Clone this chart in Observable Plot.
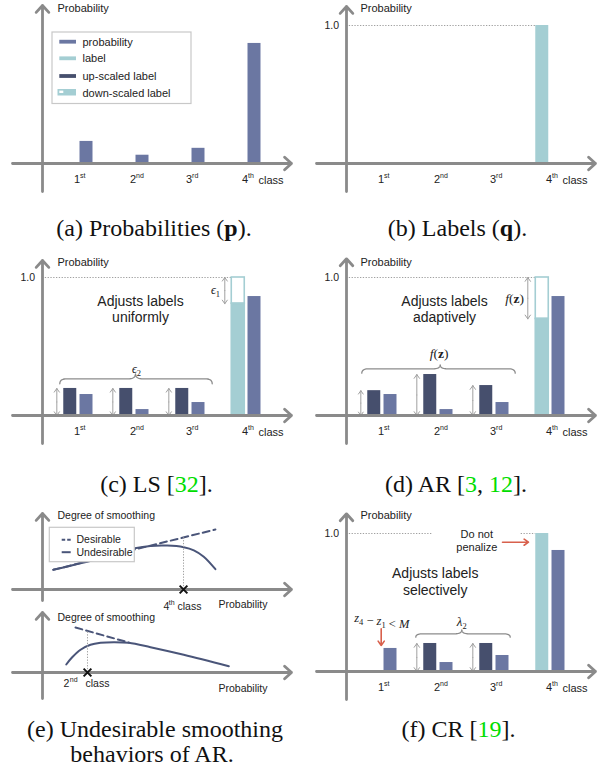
<!DOCTYPE html>
<html><head><meta charset="utf-8">
<script src="https://cdn.jsdelivr.net/npm/d3@7"></script>
<script src="https://cdn.jsdelivr.net/npm/@observablehq/plot@0.6"></script>
<style>
body{margin:0;background:#fff;}
#fig{position:relative;width:597px;height:778px;overflow:hidden;background:#fff;}
.panel{position:absolute;width:298px;}
.cap{position:absolute;font-family:"Liberation Serif","Times New Roman",serif;font-size:24px;color:#111;white-space:nowrap;transform:translateX(-50%);line-height:24px;}
.cite{color:#00dd00;}
</style></head><body><div id="fig"></div>
<script>
// ---------------- data ----------------
const classNums = ["1", "2", "3", "4"];
const classSups = ["st", "nd", "rd", "th"];
const legendLabels = ["probability", "label", "up-scaled label", "down-scaled label"];
const probA = [0.16, 0.06, 0.11, 0.87];
const labelB = [null, null, null, 1.0];
const probC = [0.152, 0.043, 0.094, 0.862];
const upC = [0.196, 0.196, 0.196, null];
const downC = [null, null, null, 0.81];
const probD = [0.152, 0.043, 0.094, 0.862];
const upD = [0.18, 0.297, 0.217, null];
const downD = [null, null, null, 0.70];
const probF = [0.167, 0.065, 0.116, 0.877];
const upF = [null, 0.203, 0.203, null];
const labelF = [null, null, null, 1.0];
// panel (e): [probability, degree of smoothing]
const desirableTop = [[0.049, 0.246], [0.786, 0.75]];
const undesirableTop = [[0.049, 0.246], [0.264, 0.39], [0.42, 0.515], [0.49, 0.545], [0.567, 0.55], [0.642, 0.529], [0.688, 0.49], [0.733, 0.41], [0.786, 0.254]];
const desirableBottom = [[0.15, 0.5625], [0.392, 0.375]];
const undesirableBottom = [[0.108, 0.1], [0.135, 0.19], [0.173, 0.284], [0.218, 0.346], [0.264, 0.371], [0.324, 0.379], [0.392, 0.371], [0.491, 0.316], [0.642, 0.221], [0.847, 0.079]];
const classTop = 0.641, classBottom = 0.2045;
const eLegend = ["Desirable", "Undesirable"];
const captions = [
  {cx: 154, base: 235, html: '(a) Probabilities (<b>p</b>).'},
  {cx: 457.5, base: 235, html: '(b) Labels (<b>q</b>).'},
  {cx: 156.5, base: 491, html: '(c) LS [<span class="cite">32</span>].'},
  {cx: 456, base: 491, html: '(d) AR [<span class="cite">3</span>, <span class="cite">12</span>].'},
  {cx: 155, base: 736, html: '(e) Undesirable smoothing'},
  {cx: 152, base: 761, html: 'behaviors of AR.'},
  {cx: 458.5, base: 736, html: '(f) CR [<span class="cite">19</span>].'}
];

// ---------------- layout helpers ----------------
const W = 298, H = 200, AX = 163;
const px2x = px => (px - 30) / 56;
const px2y = py => (AX - py) / 138;
const BW = 0.116, DOFF = -0.29, AOFF = -0.53;
const C = {prob: "#6b77a2", label: "#a4ced3", dark: "#464f6d", axis: "#8a8a8a", red: "#d8604c",
  curve: "#4a5579", txt: "#222", guide: "#a0a0a0", brace: "#8c8c8c", box: "#c8c8c8"};
const SANS = "Liberation Sans, Arial, Helvetica, sans-serif";
const SERIF = "Liberation Serif, Times New Roman, serif";

const rows = vals => vals.map((v, i) => ({c: i + 1, v})).filter(d => d.v != null);

function barRects(vals, off, fill) {
  return Plot.rect(rows(vals), {x1: d => d.c + off - BW, x2: d => d.c + off + BW, y1: 0, y2: "v", fill});
}
function downScaled(vals) {
  return [
    Plot.rect(rows(vals), {x1: d => d.c + DOFF - BW, x2: d => d.c + DOFF + BW, y1: "v", y2: 1, fill: "white", stroke: C.label, strokeWidth: 1.6}),
    Plot.rect(rows(vals), {x1: d => d.c + DOFF - BW, x2: d => d.c + DOFF + BW, y1: 0, y2: "v", fill: C.label, stroke: C.label, strokeWidth: 1.6})
  ];
}
function dblArrows(vals) {
  const r = rows(vals);
  const o = {x1: d => d.c + AOFF, x2: d => d.c + AOFF, y1: d => d.v / 2, stroke: C.guide, strokeWidth: 1, headLength: 7, headAngle: 70};
  return [Plot.arrow(r, {...o, y2: 0}), Plot.arrow(r, {...o, y2: "v"})];
}
function dbl(x, ya, yb) {
  const o = {x1: x, x2: x, y1: (ya + yb) / 2, stroke: C.guide, strokeWidth: 1, headLength: 7, headAngle: 70};
  return [Plot.arrow([0], {...o, y2: ya}), Plot.arrow([0], {...o, y2: yb})];
}
function axes(yTop) {
  const o = {stroke: C.axis, strokeWidth: 2.8, headLength: 5, headAngle: 85};
  return [
    Plot.arrow([0], {...o, x1: px2x(12), y1: 0, x2: px2x(291), y2: 0}),
    Plot.arrow([0], {...o, x1: px2x(42), y1: px2y(191), x2: px2x(42), y2: px2y(yTop)})
  ];
}
function ticks() {
  const d = classNums.map((n, i) => ({c: i + 1, n, s: classSups[i]}));
  return [
    Plot.text(d, {x: d => d.c - 0.115, y: px2y(179), text: "n", textAnchor: "end", fontSize: 11, fill: C.txt}),
    Plot.text(d, {x: d => d.c - 0.115, y: px2y(175.5), text: "s", textAnchor: "start", fontSize: 7, fill: C.txt}),
    Plot.text(["class"], {x: px2x(258), y: px2y(180), text: d => d, textAnchor: "start", fontSize: 11, fill: C.txt})
  ];
}
function title(ty, tx = 56) {
  return Plot.text(["Probability"], {x: px2x(tx), y: px2y(ty), text: d => d, textAnchor: "start", fontSize: 11, fill: C.txt});
}
function one() {
  return [
    Plot.text(["1.0"], {x: px2x(34.5), y: 1, text: d => d, textAnchor: "end", fontSize: 10.5, fill: C.txt})
  ];
}
function refLine(segs) {
  return Plot.ruleY(segs, {y: () => 1, x1: d => d[0], x2: d => d[1], stroke: C.guide, strokeWidth: 1, strokeDasharray: "1.3,1.5"});
}
function brace(x1, x2, xt, yE, yL, yT, r = 7) {
  const pts = [];
  const q = (p0, c, p1) => {
    for (let k = 0; k <= 10; k++) {
      const t = k / 10;
      pts.push([(1 - t) ** 2 * p0[0] + 2 * (1 - t) * t * c[0] + t * t * p1[0], (1 - t) ** 2 * p0[1] + 2 * (1 - t) * t * c[1] + t * t * p1[1]]);
    }
  };
  q([x1, yE], [x1, yL], [x1 + r, yL]);
  q([xt - r, yL], [xt, yL], [xt, yT]);
  q([xt, yT], [xt, yL], [xt + r, yL]);
  q([x2 - r, yL], [x2, yL], [x2, yE]);
  return Plot.line(pts.map(([x, y]) => [px2x(x), px2y(y)]), {x: d => d[0], y: d => d[1], stroke: C.brace, strokeWidth: 1.3});
}
function label(str, xpx, ypx, opts = {}) {
  return Plot.text([str], {x: px2x(xpx), y: px2y(ypx), text: d => d, fill: C.txt, fontSize: 14, ...opts});
}
function rich(svg, plain, html) {
  svg.querySelectorAll("text").forEach(t => { if (t.textContent === plain) t.innerHTML = html; });
}
function barPlot(marks) {
  return Plot.plot({
    width: W, height: H, margin: 0,
    x: {domain: [0, 5], range: [30, 310], axis: null},
    y: {domain: [0, 1], range: [AX, 25], axis: null},
    style: {fontFamily: SANS, background: "transparent", overflow: "visible"},
    marks
  });
}
const labelLeft = 4 + DOFF - BW;

// ---------------- panels ----------------
const legY = [41.7, 58.3, 76, 92.7];
const legColors = [C.prob, C.label, C.dark];
const pa = barPlot([
  barRects(probA, 0, C.prob),
  Plot.rect([0], {x1: px2x(52), x2: px2x(191), y1: px2y(32), y2: px2y(103.5), fill: "white", stroke: C.box, strokeWidth: 1.2}),
  Plot.rect([0, 1, 2], {x1: px2x(59.3), x2: px2x(76), y1: i => px2y(legY[i] - 1.9), y2: i => px2y(legY[i] + 1.9), fill: i => legColors[i]}),
  Plot.rect([0], {x1: px2x(57.5), x2: px2x(76), y1: px2y(89), y2: px2y(95.5), fill: C.label}),
  Plot.rect([0], {x1: px2x(59.3), x2: px2x(63.3), y1: px2y(90.6), y2: px2y(93), fill: "white"}),
  Plot.text(legendLabels, {x: px2x(82), y: (d, i) => px2y(legY[i]), text: d => d, textAnchor: "start", fontSize: 11, fill: C.txt}),
  ...axes(5), ...ticks(), title(7.5, 57)
]);

const pb = barPlot([
  refLine([[px2x(42), labelLeft]]),
  barRects(labelB, DOFF, C.label),
  ...axes(6), ...ticks(), title(7.5), ...one()
]);

const pc = barPlot([
  refLine([[px2x(42), labelLeft]]),
  barRects(upC, DOFF, C.dark), barRects(probC, 0, C.prob), ...downScaled(downC),
  ...dblArrows(upC),
  ...dbl(px2x(224.3), 1.0, downC[3]),
  brace(59.3, 211.7, 135, 131.3, 126.3, 121.3),
  label("ϵ1", 215, 37.3, {fontFamily: SERIF, fontSize: 12}),
  label("ϵ2", 136, 116.3, {fontFamily: SERIF, fontSize: 12}),
  label("Adjusts labels", 140, 48.7), label("uniformly", 140, 64.7),
  ...axes(8), ...ticks(), title(9.7, 57), ...one()
]);

const pd = barPlot([
  refLine([[px2x(42), labelLeft]]),
  barRects(upD, DOFF, C.dark), barRects(probD, 0, C.prob), ...downScaled(downD),
  ...dblArrows(upD),
  ...dbl(px2x(223.3), 1.0, downD[3]),
  brace(57.3, 210.7, 135.7, 120.7, 116.3, 112.3),
  label("f(z)", 210, 46.3, {fontFamily: SERIF, fontSize: 13.5}),
  label("f(z) ", 134.5, 101.3, {fontFamily: SERIF, fontSize: 13.5}),
  label("Adjusts labels", 140, 48.7), label("adaptively", 140, 64.7),
  ...axes(6.3), ...ticks(), title(9.7), ...one()
]);

const pf = barPlot([
  refLine([[px2x(42), px2x(127.3)], [px2x(216.7), labelLeft]]),
  barRects(upF, DOFF, C.dark), barRects(probF, 0, C.prob), barRects(labelF, DOFF, C.label),
  ...dblArrows(upF),
  brace(111.3, 205.7, 157.3, 128.7, 125.3, 121.3),
  label("λ2", 157.3, 113.7, {fontFamily: SERIF, fontSize: 13}),
  label("z4 - z1 < M", 77.3, 109.7, {fontFamily: SERIF, fontSize: 12.5}),
  Plot.arrow([0], {x1: px2x(76.7), y1: px2y(120.3), x2: px2x(76.7), y2: px2y(137), stroke: C.red, strokeWidth: 1.6, headLength: 5, headAngle: 70}),
  label("Do not", 172.3, 26.3, {fontSize: 11}), label("penalize", 172.3, 39.3, {fontSize: 11}),
  Plot.arrow([0], {x1: px2x(198), y1: px2y(33.7), x2: px2x(224), y2: px2y(33.7), stroke: C.red, strokeWidth: 1.6, headLength: 5, headAngle: 70}),
  label("Adjusts labels", 130.7, 65.3), label("selectively", 130.7, 82),
  ...axes(5.3), ...ticks(), title(7), ...one()
]);

// ---- panel (e) ----
const ex = px => (px - 42) / 220;
const interp = (line, x) => line[0][1] + (x - line[0][0]) / (line[1][0] - line[0][0]) * (line[1][1] - line[0][1]);
function eAxes(yFn, yBot, yTopPx) {
  const o = {stroke: C.axis, strokeWidth: 2.8, headLength: 5, headAngle: 85};
  return [
    Plot.arrow([0], {...o, x1: ex(12), y1: 0, x2: ex(291), y2: 0}),
    Plot.arrow([0], {...o, x1: 0, y1: yFn(yBot), x2: 0, y2: yFn(yTopPx)})
  ];
}
function eText(str, xpx, y, opts = {}) {
  return Plot.text([str], {x: ex(xpx), y, text: d => d, fill: C.txt, fontSize: 10.5, textAnchor: "start", ...opts});
}
function ePlot(height, yRange, marks) {
  return Plot.plot({
    width: W, height, margin: 0,
    x: {domain: [0, 1], range: [42, 262], axis: null},
    y: {domain: [0, 1], range: yRange, axis: null},
    style: {fontFamily: SANS, background: "transparent", overflow: "visible"},
    marks
  });
}
const eyT = py => (89 - py) / 80;
const pe1 = ePlot(115, [89, 9], [
  Plot.line(undesirableTop, {x: d => d[0], y: d => d[1], stroke: C.curve, strokeWidth: 2, curve: "catmull-rom"}),
  Plot.line(desirableTop, {x: d => d[0], y: d => d[1], stroke: C.curve, strokeWidth: 2, strokeDasharray: "7,4"}),
  Plot.ruleX([classTop], {y1: 0, y2: interp(desirableTop, classTop), stroke: C.guide, strokeWidth: 1, strokeDasharray: "1.3,1.5"}),
  Plot.rect([0], {x1: ex(49.3), x2: ex(134.3), y1: eyT(27.3), y2: eyT(61.7), fill: "white", stroke: C.box, strokeWidth: 1.2}),
  Plot.ruleY([eyT(39.3)], {x1: ex(61.7), x2: ex(70.7), stroke: C.curve, strokeWidth: 2, strokeDasharray: "3.5,2"}),
  Plot.ruleY([eyT(51.7)], {x1: ex(61.7), x2: ex(70.7), stroke: C.curve, strokeWidth: 2}),
  Plot.text(eLegend, {x: ex(76), y: (d, i) => eyT([39.3, 51.7][i]), text: d => d, textAnchor: "start", fontSize: 10.5, fill: C.txt}),
  ...eAxes(eyT, 100, 13),
  Plot.dot([classTop], {x: d => d, y: 0, symbol: "times", r: 3.6, stroke: "#111", strokeWidth: 2}),
  eText("Degree of smoothing", 57, eyT(15)),
  eText("4", 163, eyT(106)), eText("th", 168.3, eyT(102.5), {fontSize: 7}), eText("class", 177, eyT(106.5)),
  eText("Probability", 218, eyT(104.3))
]);
const eyB = py => (72 - py) / 80;
const pe2 = ePlot(100, [72, -8], [
  Plot.line(undesirableBottom, {x: d => d[0], y: d => d[1], stroke: C.curve, strokeWidth: 2, curve: "catmull-rom"}),
  Plot.line(desirableBottom, {x: d => d[0], y: d => d[1], stroke: C.curve, strokeWidth: 2, strokeDasharray: "7,4"}),
  Plot.ruleX([classBottom], {y1: 0, y2: interp(desirableBottom, classBottom), stroke: C.guide, strokeWidth: 1, strokeDasharray: "1.3,1.5"}),
  ...eAxes(eyB, 98, 12),
  Plot.dot([classBottom], {x: d => d, y: 0, symbol: "times", r: 3.6, stroke: "#111", strokeWidth: 2}),
  eText("Degree of smoothing", 57, eyB(17)),
  eText("2", 63, eyB(82.7)), eText("nd", 69.3, eyB(79.2), {fontSize: 7}), eText("class", 85, eyB(83)),
  eText("Probability", 218, eyB(88))
]);

// rich text (sub/superscripts, math styles)
const sub = (d) => `<tspan font-size="8.5" dy="3">${d}</tspan><tspan dy="-3"></tspan>`;
rich(pc, "ϵ1", `<tspan font-style="italic">ϵ</tspan>${sub(1)}`);
rich(pc, "ϵ2", `<tspan font-style="italic">ϵ</tspan>${sub(2)}`);
rich(pd, "f(z)", `<tspan font-style="italic">f</tspan>(<tspan font-weight="bold">z</tspan>)`);
rich(pd, "f(z) ", `<tspan font-style="italic">f</tspan>(<tspan font-weight="bold">z</tspan>)`);
rich(pf, "λ2", `<tspan font-style="italic">λ</tspan>${sub(2)}`);
rich(pf, "z4 - z1 < M", `<tspan font-style="italic">z</tspan>${sub(4)} − <tspan font-style="italic">z</tspan>${sub(1)} &lt; <tspan font-style="italic">M</tspan>`);

// ---------------- assemble ----------------
const fig = document.getElementById("fig");
[[pa, 0, 0], [pb, 304, 0], [pc, 0, 252], [pd, 304, 252], [pe1, 0, 500], [pe2, 0, 600], [pf, 304, 508]].forEach(([el, l, t]) => {
  const d = document.createElement("div");
  d.className = "panel"; d.style.left = l + "px"; d.style.top = t + "px";
  d.appendChild(el); fig.appendChild(d);
});
captions.forEach(c => {
  const d = document.createElement("div");
  d.className = "cap"; d.style.left = c.cx + "px"; d.style.top = (c.base - 19) + "px";
  d.innerHTML = c.html; fig.appendChild(d);
});
</script></body></html>
